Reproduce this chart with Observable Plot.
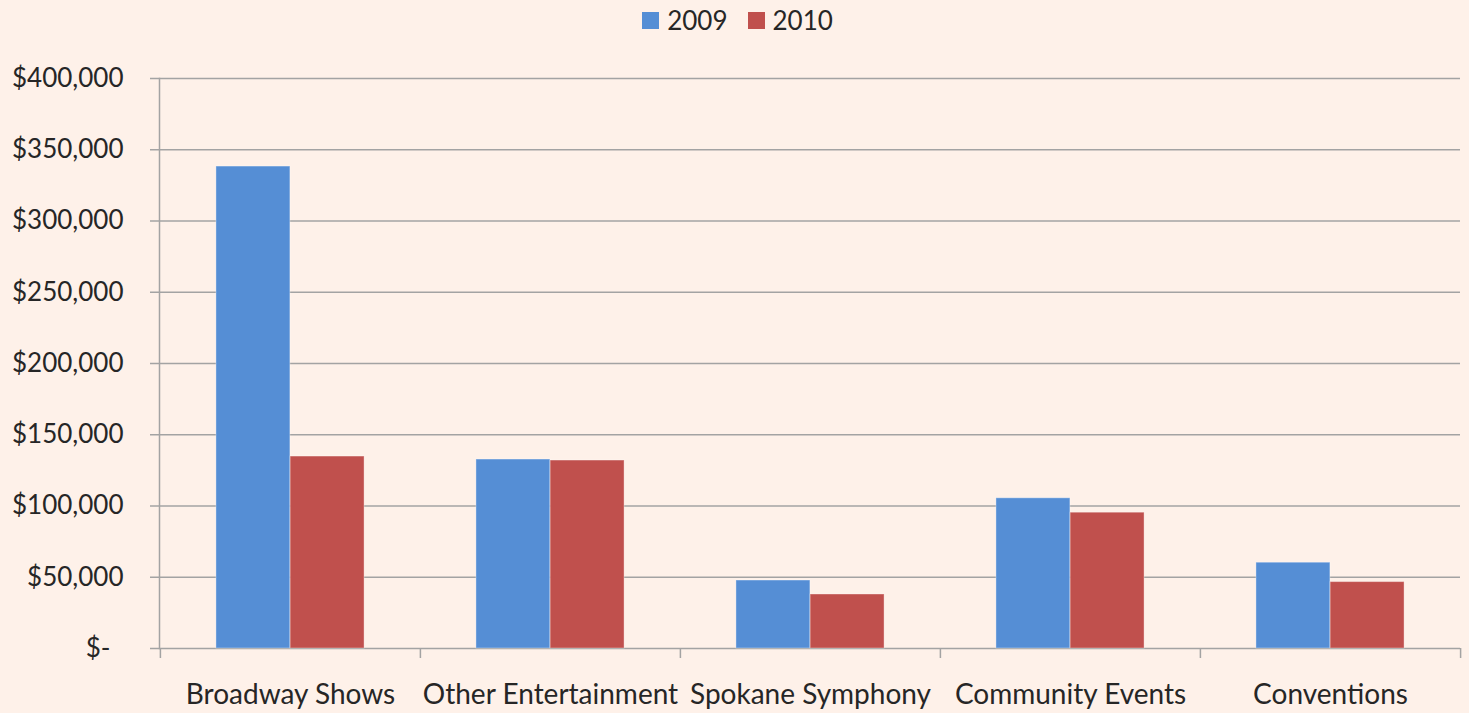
<!DOCTYPE html>
<html><head><meta charset="utf-8">
<script src="https://cdn.jsdelivr.net/npm/d3@7"></script>
<script src="https://cdn.jsdelivr.net/npm/@observablehq/plot@0.6"></script>
<style>
html,body{margin:0;padding:0;background:#FEF1E9;}
body{width:1469px;height:713px;overflow:hidden;font-family:Lato,sans-serif;color:#262626}
#legend{height:40px;display:flex;justify-content:center;align-items:center;font-size:26px;padding-left:6px;box-sizing:border-box}
#legend .item{display:flex;align-items:center;margin:0 10px}
#legend .sw{width:17px;height:17px;margin-right:8px}
</style></head><body>
<div id="legend"></div><div id="chart"></div>
<script>
const categories = ["Broadway Shows", "Other Entertainment", "Spokane Symphony", "Community Events", "Conventions"];
const series = ["2009", "2010"];
const values2009 = [338200, 132600, 47700, 105400, 60200];
const values2010 = [134700, 131900, 37900, 95300, 46600];
const colors = ["#558ED5", "#C0504D"];
const yTicks = [0, 50000, 100000, 150000, 200000, 250000, 300000, 350000, 400000];

const data = categories.flatMap((c, i) => [
  {category: c, year: series[0], value: values2009[i]},
  {category: c, year: series[1], value: values2010[i]}
]);

const W = 1469, H = 673, mL = 159, mR = 9, mT = 38, mB = 65;
const bw = (W - mL - mR) / categories.length;
const plotH = H - mT - mB;
const gridColor = "#A3A3A3";
const fmt = d3.format(",");

const legend = document.getElementById("legend");
series.forEach((s, i) => {
  const it = document.createElement("div"); it.className = "item";
  const sw = document.createElement("div"); sw.className = "sw"; sw.style.background = colors[i];
  const tx = document.createElement("span"); tx.textContent = s;
  it.appendChild(sw); it.appendChild(tx); legend.appendChild(it);
});

const chart = Plot.plot({
  width: W, height: H, marginTop: mT, marginBottom: mB, marginLeft: mL, marginRight: mR,
  style: {background: "transparent", fontFamily: "Lato, sans-serif", fontSize: "26px", color: "#262626", overflow: "visible"},
  x: {domain: categories, padding: 0, label: null},
  y: {domain: [0, 400000], label: null},
  color: {domain: series, range: colors},
  marks: [
    Plot.gridY(yTicks, {stroke: gridColor, strokeOpacity: 1, strokeWidth: 1.5}),
    Plot.frame({anchor: "left", stroke: gridColor, strokeWidth: 1.5}),
    Plot.axisY(yTicks, {tickSize: 9, tickPadding: 27, stroke: gridColor, strokeWidth: 1.5, label: null,
      tickFormat: d => d === 0 ? "$-\u2002" : "$" + fmt(d)}),
    Plot.barY(data.filter(d => d.year === series[0]), {x: "category", y: "value", fill: "year",
      insetLeft: bw * 0.215, insetRight: bw * 0.5, stroke: "#fff", strokeOpacity: 0.35, strokeWidth: 1}),
    Plot.barY(data.filter(d => d.year === series[1]), {x: "category", y: "value", fill: "year",
      insetLeft: bw * 0.5, insetRight: bw * 0.215, stroke: "#fff", strokeOpacity: 0.35, strokeWidth: 1}),
    Plot.ruleX(categories, {x: d => d, dx: -bw / 2, stroke: gridColor, strokeWidth: 1.5, insetTop: plotH, insetBottom: -10}),
    Plot.ruleX(categories.slice(-1), {x: d => d, dx: bw / 2, stroke: gridColor, strokeWidth: 1.5, insetTop: plotH, insetBottom: -10}),
    Plot.axisX({tickSize: 0, tickPadding: 36, label: null, fontSize: 28})
  ]
});
document.getElementById("chart").appendChild(chart);
</script>
</body></html>
